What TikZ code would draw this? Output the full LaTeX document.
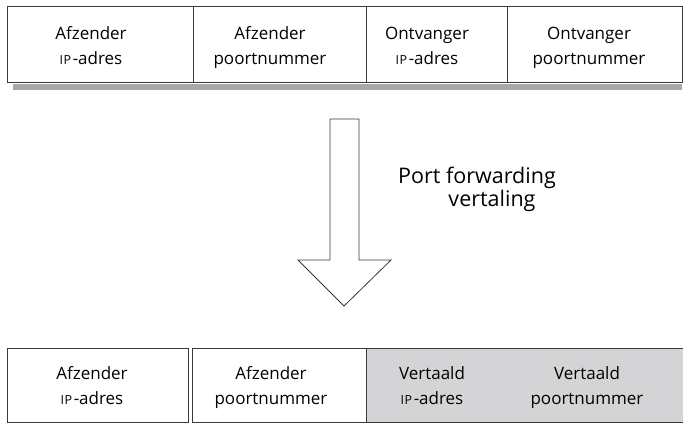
\documentclass[tikz,border=0pt]{standalone}
\usepackage{fontspec}
\setmainfont{Open Sans}
\definecolor{linegray}{HTML}{3A3A3A}
\definecolor{shadowgray}{HTML}{A8A8A8}
\definecolor{cellgray}{HTML}{D4D4D6}
\newcommand{\ipsc}{{\fontsize{12.5}{12}\selectfont I\kern0.6pt P}\kern1.5pt-adres}
\newcommand{\twolines}[2]{\strut #1\\\strut #2}
\begin{document}
\begin{tikzpicture}[x=1pt,y=-1pt,
  cell/.style={draw=linegray, line width=1pt, minimum height=76pt, inner sep=0pt, outer sep=0pt, anchor=north west},
  lbl/.style={font=\fontsize{17}{25}\selectfont, align=center, text=black, inner sep=0pt},
  biglbl/.style={font=\fontsize{21.5}{23}\selectfont, align=center, text=black, inner sep=0pt}]
\useasboundingbox (0,0) rectangle (683,425);
% top row
\node[fill=shadowgray, anchor=north west, minimum width=669pt, minimum height=6pt, inner sep=0pt, outer sep=0pt] (shadow) at (13,84) {};
\node[cell, minimum width=186pt] (a1) at (7,7) {};
\node[cell, minimum width=173pt] (a2) at (193,7) {};
\node[cell, minimum width=141pt] (a3) at (366,7) {};
\node[cell, minimum width=175pt] (a4) at (507,7) {};
\node[lbl] (ta1) at (91,47) {\twolines{Afzender}{\ipsc}};
\node[lbl] (ta2) at (270,47) {\twolines{Afzender}{poortnummer}};
\node[lbl] (ta3) at (427,47) {\twolines{Ontvanger}{\ipsc}};
\node[lbl] (ta4) at (589,47) {\twolines{Ontvanger}{poortnummer}};
% arrow
\draw[linegray, line width=0.8pt, fill=white, line join=miter]
  (330,119) -- (359,119) -- (359,260) -- (391,260) -- (344,306) -- (298,260) -- (330,260) -- cycle;
\node[biglbl] (port) at (477,189) {Port forwarding\\\hspace*{30pt}vertaling};
% bottom row
\node[cell, minimum width=181pt, minimum height=74pt] (b1) at (7,348) {};
\node[cell, minimum width=174pt, minimum height=74pt] (b2) at (192,348) {};
\node[cell, fill=cellgray, minimum width=330pt, minimum height=74pt] (b3) at (366,348) {};
\node[lbl] (tb1) at (92,387) {\twolines{Afzender}{\ipsc}};
\node[lbl] (tb2) at (271,387) {\twolines{Afzender}{poortnummer}};
\node[lbl] (tb3) at (432,387) {\twolines{Vertaald}{\ipsc}};
\node[lbl] (tb4) at (587,387) {\twolines{Vertaald}{poortnummer}};
\end{tikzpicture}
\end{document}
